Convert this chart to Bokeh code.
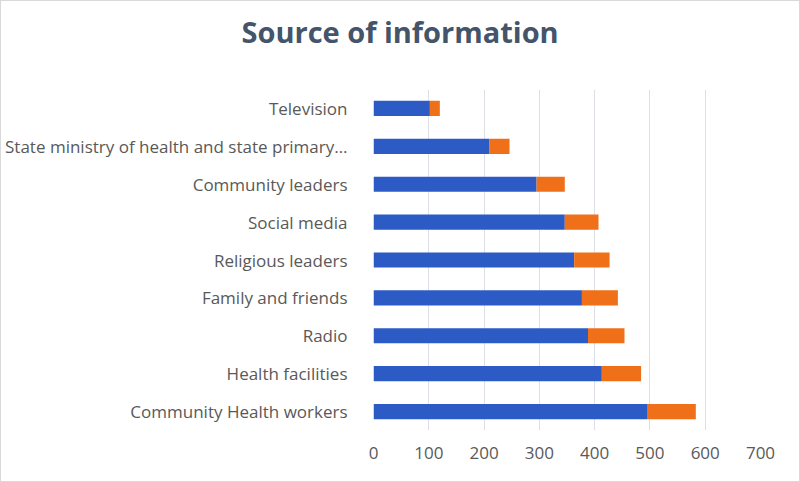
from bokeh.plotting import figure
from bokeh.models import ColumnDataSource, FactorRange, Range1d, FixedTicker, InlineStyleSheet
from bokeh.embed import file_html
from bokeh.resources import INLINE

title_text = "Source of information"
categories = [
    "Television",
    "State ministry of health and state primary…",
    "Community leaders",
    "Social media",
    "Religious leaders",
    "Family and friends",
    "Radio",
    "Health facilities",
    "Community Health workers",
]
series_a = [102, 210, 295, 346, 363, 377, 388, 413, 496]
series_b = [18, 36, 51, 61, 64, 65, 66, 71, 87]
x_ticks = [0, 100, 200, 300, 400, 500, 600, 700]

BLUE = "#2D5BC6"
ORANGE = "#F07019"
TEXT = "#595959"
GRID = "#DDE0E8"

factors = list(reversed(categories))
src = ColumnDataSource(dict(cat=categories, a=series_a, b=series_b))

p = figure(
    width=800, height=482,
    y_range=FactorRange(factors=factors, range_padding=0),
    x_range=Range1d(0, 700),
    output_backend="svg", toolbar_location=None,
    min_border_left=372, min_border_right=41,
    min_border_top=88, min_border_bottom=53,
    title=title_text + "\n",
)
p.stylesheets = [InlineStyleSheet(css=":host { box-sizing: border-box; border: 1px solid #D9D9D9; }")]

p.hbar_stack(["a", "b"], y="cat", height=0.4, color=[BLUE, ORANGE], source=src, line_width=0)

p.title.align = "left"
p.title.text_font = "Open Sans"
p.title.text_font_size = "29px"
p.title.text_font_style = "bold"
p.title.text_color = "#44546A"
p.title.text_line_height = 0.95
p.title.standoff = 2
p.title.offset = -132

p.outline_line_color = None
p.ygrid.grid_line_color = None
p.xgrid.grid_line_color = GRID
p.xgrid.ticker = FixedTicker(ticks=x_ticks)

p.xaxis.ticker = FixedTicker(ticks=x_ticks)
p.xaxis.axis_line_color = None
p.xaxis.major_tick_line_color = None
p.xaxis.minor_tick_line_color = None
p.xaxis.major_label_text_font = "Open Sans"
p.xaxis.major_label_text_font_size = "17px"
p.xaxis.major_label_text_color = TEXT
p.xaxis.major_label_standoff = 10

p.yaxis.axis_line_color = None
p.yaxis.major_tick_line_color = None
p.yaxis.major_label_text_font = "Open Sans"
p.yaxis.major_label_text_font_size = "17px"
p.yaxis.major_label_text_color = TEXT
p.yaxis.major_label_standoff = 20

open("out.html", "w").write(file_html(p, INLINE))
